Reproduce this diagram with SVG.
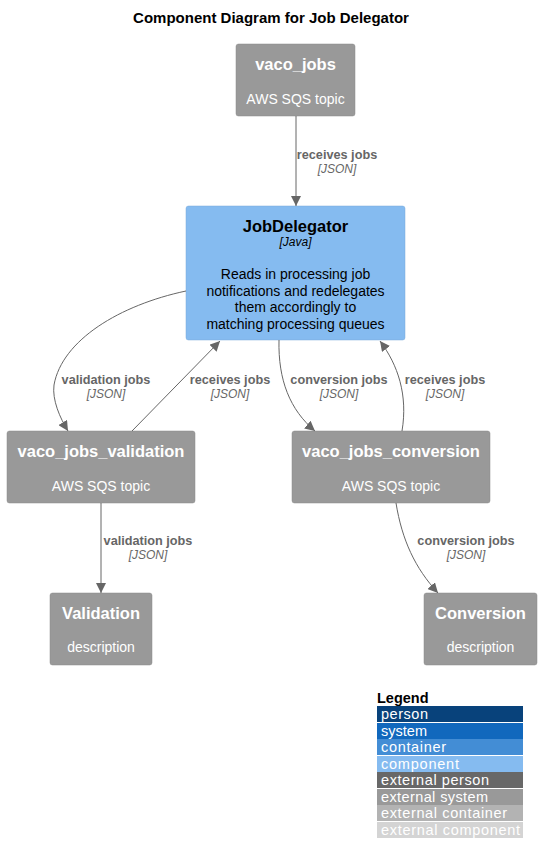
<svg xmlns="http://www.w3.org/2000/svg" width="553" height="863" viewBox="0 0 553 863">
<defs>
<marker id="arr" viewBox="0 0 10 10" refX="10" refY="5" markerWidth="10" markerHeight="10" markerUnits="userSpaceOnUse" orient="auto">
<path d="M0,0 L10,5 L0,10 Z" fill="#666666"/>
</marker>
<style>
text{font-family:"Liberation Sans",Arial,sans-serif;}
.title{font-size:15px;font-weight:bold;fill:#000;}
.ext{fill:#999999;stroke:#8A8A8A;stroke-width:0.5;}
.comp{fill:#85BBF0;stroke:#78A8D8;stroke-width:0.5;}
.nt{font-size:16.5px;font-weight:bold;fill:#fff;text-anchor:middle;}
.ns{font-size:14px;fill:#fff;text-anchor:middle;}
.ct{font-size:16.5px;font-weight:bold;fill:#000;text-anchor:middle;}
.cs{font-size:12px;font-style:italic;fill:#000;text-anchor:middle;}
.cd{font-size:14px;fill:#000;text-anchor:middle;}
.edge{fill:none;stroke:#666666;stroke-width:1;marker-end:url(#arr);}
.el{font-size:12.7px;font-weight:bold;fill:#666666;text-anchor:middle;}
.ej{font-size:12px;font-style:italic;fill:#666666;text-anchor:middle;}
.lg{font-size:14.5px;fill:#fff;}
</style>
</defs>
<rect width="553" height="863" fill="#fff"/>
<text class="title" x="271" y="23" text-anchor="middle">Component Diagram for Job Delegator</text>

<g id="vaco_jobs">
<rect class="ext" x="236" y="44" width="119" height="72" rx="2.5"/>
<text class="nt" x="295.5" y="70">vaco_jobs</text>
<text class="ns" x="295.5" y="104">AWS SQS topic</text>
</g>

<g id="JobDelegator">
<rect class="comp" x="186" y="206" width="219" height="134" rx="2.5"/>
<text class="ct" x="295.5" y="232">JobDelegator</text>
<text class="cs" x="295.5" y="246">[Java]</text>
<text class="cd" x="295.5" y="279">Reads in processing job</text>
<text class="cd" x="295.5" y="296">notifications and redelegates</text>
<text class="cd" x="295.5" y="312">them accordingly to</text>
<text class="cd" x="295.5" y="329">matching processing queues</text>
</g>

<g id="vaco_jobs_validation">
<rect class="ext" x="7" y="431" width="188" height="72" rx="2.5"/>
<text class="nt" x="101" y="457">vaco_jobs_validation</text>
<text class="ns" x="101" y="491">AWS SQS topic</text>
</g>

<g id="vaco_jobs_conversion">
<rect class="ext" x="292" y="431" width="198" height="72" rx="2.5"/>
<text class="nt" x="391" y="457">vaco_jobs_conversion</text>
<text class="ns" x="391" y="491">AWS SQS topic</text>
</g>

<g id="Validation">
<rect class="ext" x="50" y="593" width="102" height="72" rx="2.5"/>
<text class="nt" x="101" y="619">Validation</text>
<text class="ns" x="101" y="652">description</text>
</g>

<g id="Conversion">
<rect class="ext" x="424" y="593" width="113" height="72" rx="2.5"/>
<text class="nt" x="480.5" y="619">Conversion</text>
<text class="ns" x="480.5" y="652">description</text>
</g>

<g id="connectors">
<path class="edge" d="M296,116 L296,206"/>
<text class="el" x="337" y="159">receives jobs</text>
<text class="ej" x="337" y="173">[JSON]</text>

<path class="edge" d="M186,291 C120,305 62,340 54,385 C52,400 60,418 68,431"/>
<text class="el" x="106" y="384">validation jobs</text>
<text class="ej" x="106" y="398">[JSON]</text>

<path class="edge" d="M132,431 L220,341"/>
<text class="el" x="230" y="384">receives jobs</text>
<text class="ej" x="230" y="398">[JSON]</text>

<path class="edge" d="M279,340 C278,380 290,410 315,431"/>
<text class="el" x="339" y="384">conversion jobs</text>
<text class="ej" x="339" y="398">[JSON]</text>

<path class="edge" d="M402,431 C408,395 398,365 380,341"/>
<text class="el" x="445" y="384">receives jobs</text>
<text class="ej" x="445" y="398">[JSON]</text>

<path class="edge" d="M101,503 L101,593"/>
<text class="el" x="148" y="545">validation jobs</text>
<text class="ej" x="148" y="559">[JSON]</text>

<path class="edge" d="M396,503 C402,540 415,568 438,593"/>
<text class="el" x="466" y="545">conversion jobs</text>
<text class="ej" x="466" y="559">[JSON]</text>
</g>

<g id="legend">
<text x="377" y="703" style="font-size:14.5px;font-weight:bold;fill:#000">Legend</text>
<rect x="377" y="706" width="146" height="16" fill="#08427B"/>
<text class="lg" x="381" y="719" textLength="47">person</text>
<rect x="377" y="723" width="146" height="16" fill="#1168BD"/>
<text class="lg" x="381" y="736" textLength="46">system</text>
<rect x="377" y="739" width="146" height="16" fill="#438DD5"/>
<text class="lg" x="381" y="752" textLength="65">container</text>
<rect x="377" y="756" width="146" height="16" fill="#85BBF0"/>
<text class="lg" x="381" y="769" textLength="78">component</text>
<rect x="377" y="772" width="146" height="16" fill="#686868"/>
<text class="lg" x="381" y="785" textLength="108">external person</text>
<rect x="377" y="789" width="146" height="16" fill="#999999"/>
<text class="lg" x="381" y="802" textLength="107">external system</text>
<rect x="377" y="805" width="146" height="16" fill="#B3B3B3"/>
<text class="lg" x="381" y="818" textLength="126">external container</text>
<rect x="377" y="822" width="146" height="16" fill="#D4D4D4"/>
<text class="lg" x="381" y="835" textLength="139">external component</text>
</g>
</svg>
